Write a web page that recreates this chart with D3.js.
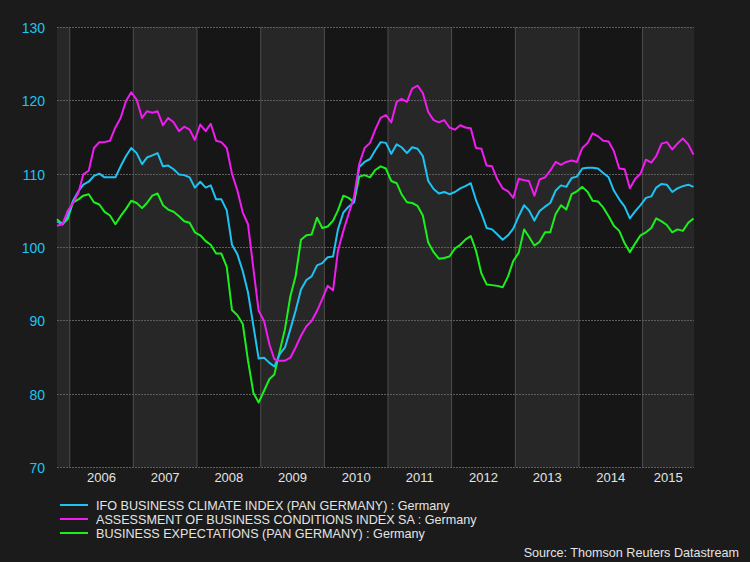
<!DOCTYPE html>
<html>
<head>
<meta charset="utf-8">
<script src="https://cdn.jsdelivr.net/npm/d3@7"></script>
<style>
  html, body { margin: 0; padding: 0; background: #1b1b1b; }
  svg { display: block; font-family: "Liberation Sans", Arial, sans-serif; }
</style>
</head>
<body>
<div id="chart"></div>
<script>
// Séries mensuelles, oct. 2005 -> oct. 2015
const startMonth = new Date(2005, 9, 20);

const ifoClimate = [
    103.5, 103.1, 104.2, 106.3, 107.6, 108.5, 108.9, 109.7, 110.0, 109.5, 109.5, 109.5,
    111.0, 112.4, 113.5, 112.8, 111.3, 112.2, 112.5, 112.8, 111.0, 111.1, 110.6, 109.9,
    109.8, 109.5, 108.1, 108.9, 108.1, 108.4, 106.5, 106.5, 105.0, 100.3, 99.0, 96.7,
    93.8, 89.2, 84.8, 84.9, 84.2, 83.7, 85.4, 86.3, 88.8, 91.3, 94.2, 95.5,
    96.0, 97.5, 97.8, 98.6, 98.7, 102.4, 104.7, 105.5, 106.1, 110.9, 111.6, 112.0,
    113.2, 114.3, 114.2, 112.7, 114.0, 113.6, 112.8, 113.6, 113.4, 112.4, 109.0, 107.9,
    107.3, 107.5, 107.2, 107.5, 108.0, 108.3, 108.7, 106.4, 104.6, 102.6, 102.4, 101.7,
    101.0, 101.6, 102.5, 104.2, 105.7, 105.0, 103.6, 104.9, 105.5, 106.0, 107.7, 108.4,
    108.2, 109.4, 109.6, 110.7, 110.8, 110.8, 110.7, 110.1, 109.5, 107.7, 106.5, 105.5,
    103.9, 104.9, 105.7, 106.7, 106.9, 108.1, 108.6, 108.5, 107.5, 108.0, 108.3, 108.5,
    108.2
];

const assessment = [
    102.9, 103.1, 104.9, 106.0, 107.4, 109.9, 110.4, 113.5, 114.3, 114.3, 114.5, 116.3,
    117.6, 119.9, 121.1, 120.1, 117.6, 118.5, 118.3, 118.5, 116.6, 117.6, 117.0, 115.8,
    116.4, 116.0, 114.6, 116.7, 115.8, 116.8, 114.5, 114.3, 113.5, 110.0, 107.7, 104.7,
    103.1, 97.0, 91.3, 89.9, 86.7, 84.7, 84.5, 84.5, 84.9, 86.3, 87.9, 89.2,
    89.9, 91.3, 92.9, 94.7, 94.1, 99.5, 102.2, 104.5, 106.8, 111.3, 113.5, 114.2,
    116.0, 117.6, 118.0, 117.0, 119.8, 120.2, 119.8, 121.6, 122.0, 121.0, 118.4, 117.3,
    117.0, 117.3, 116.3, 116.0, 116.6, 116.3, 116.2, 113.5, 113.4, 111.1, 111.0, 109.2,
    108.0, 107.6, 106.7, 109.3, 109.1, 109.0, 107.0, 109.2, 109.5, 110.4, 111.6, 111.2,
    111.6, 111.8, 111.6, 113.5, 114.2, 115.5, 115.1, 114.5, 114.4, 113.1, 110.7, 110.6,
    108.0, 109.3, 110.0, 111.9, 111.5, 112.4, 114.1, 114.3, 113.3, 114.1, 114.8, 114.0,
    112.6
];

const expectations = [
    103.8, 103.1, 103.8, 106.1, 106.5, 107.0, 107.2, 106.1, 105.8, 104.8, 104.3, 103.1,
    104.2, 105.2, 106.3, 106.0, 105.3, 106.0, 107.0, 107.3, 105.7, 105.1, 104.8, 104.2,
    103.5, 103.3, 102.0, 101.6, 100.8, 100.3, 99.1, 99.1, 97.3, 91.4, 90.7, 89.5,
    84.5, 80.1, 78.8, 80.4, 82.0, 82.6, 85.8, 88.8, 93.3, 96.0, 101.0, 101.6,
    101.7, 104.0, 102.6, 102.8, 103.6, 105.0, 107.0, 106.7, 106.1, 109.6, 109.8, 109.5,
    110.5, 111.0, 110.7, 109.0, 108.7, 107.2, 106.1, 106.0, 105.6, 104.3, 100.6, 99.3,
    98.4, 98.5, 98.7, 99.8, 100.3, 101.0, 101.5, 99.5, 96.4, 94.9, 94.8, 94.7,
    94.5, 96.0, 98.1, 99.2, 102.4, 101.4, 100.2, 100.7, 102.0, 102.0, 104.5, 105.7,
    105.1, 107.2, 107.6, 108.2, 107.5, 106.3, 106.2, 105.4, 104.2, 102.9, 102.2, 100.5,
    99.3, 100.5, 101.6, 102.0, 102.6, 103.9, 103.5, 103.0, 102.0, 102.4, 102.2, 103.3,
    103.9
];

const seriesNames = [
    "IFO BUSINESS CLIMATE INDEX (PAN GERMANY) : Germany",
    "ASSESSMENT OF BUSINESS CONDITIONS INDEX SA : Germany",
    "BUSINESS EXPECTATIONS (PAN GERMANY) : Germany"
];
const seriesColors = ["#1ec3f2", "#f01cf0", "#1cf01c"];

const yTicks = [70, 80, 90, 100, 110, 120, 130];
const yearLabels = [2005, 2006, 2007, 2008, 2009, 2010, 2011, 2012, 2013, 2014, 2015];

function drawChart() {
    const width = 750;
    const height = 562;
    const plot = { left: 57, right: 694, top: 27, bottom: 467 };

    const svg = d3.select('#chart')
        .append('svg')
        .attr('width', width)
        .attr('height', height);

    svg.append('rect')
        .attr('width', width)
        .attr('height', height)
        .attr('fill', '#1b1b1b');

    const xScale = d3.scaleTime()
        .domain([startMonth, d3.timeMonth.offset(startMonth, 120)])
        .range([plot.left, 693.5]);

    const yScale = d3.scaleLinear()
        .domain([70, 130])
        .range([plot.bottom, plot.top]);

    // bandes annuelles
    yearLabels.forEach(year => {
        const x0 = Math.max(xScale(new Date(year, 0, 1)), plot.left);
        const x1 = Math.min(xScale(new Date(year + 1, 0, 1)), plot.right);
        svg.append('rect')
            .attr('x', x0)
            .attr('y', plot.top)
            .attr('width', x1 - x0)
            .attr('height', plot.bottom - plot.top)
            .attr('fill', year % 2 === 1 ? '#272727' : '#161616');

        if (year > 2005) {
            svg.append('text')
                .attr('x', (x0 + x1) / 2)
                .attr('y', 482)
                .attr('text-anchor', 'middle')
                .attr('font-size', '13px')
                .attr('fill', '#e4e4e4')
                .text(year);
            svg.append('line')
                .attr('x1', x0).attr('x2', x0)
                .attr('y1', plot.top).attr('y2', plot.bottom)
                .attr('stroke', '#4e4e4e')
                .attr('stroke-width', 1);
        }
    });

    // grille horizontale + étiquettes Y
    yTicks.forEach(t => {
        const y = Math.round(yScale(t)) + 0.5;
        svg.append('line')
            .attr('x1', plot.left).attr('x2', plot.right)
            .attr('y1', y).attr('y2', y)
            .attr('stroke', '#5e5e5e')
            .attr('stroke-width', 1)
            .attr('stroke-dasharray', '2,1');
        svg.append('text')
            .attr('x', 45)
            .attr('y', y + 5)
            .attr('text-anchor', 'end')
            .attr('font-size', '14px')
            .attr('fill', '#1ec3f2')
            .text(t);
    });

    // courbes
    const allSeries = [ifoClimate, assessment, expectations];
    const line = d3.line()
        .x((d, i) => xScale(d3.timeMonth.offset(startMonth, i)))
        .y(d => yScale(d));

    [expectations, ifoClimate, assessment].forEach(values => {
        const k = allSeries.indexOf(values);
        svg.append('path')
            .datum(values)
            .attr('d', line)
            .attr('fill', 'none')
            .attr('stroke', seriesColors[k])
            .attr('stroke-width', 2)
            .attr('stroke-linejoin', 'round');
    });

    // légende
    seriesNames.forEach((name, i) => {
        const y = 505 + i * 14;
        svg.append('line')
            .attr('x1', 60).attr('x2', 88)
            .attr('y1', y).attr('y2', y)
            .attr('stroke', seriesColors[i])
            .attr('stroke-width', 2);
        svg.append('text')
            .attr('x', 96)
            .attr('y', y + 4.5)
            .attr('font-size', '12.6px')
            .attr('fill', '#e4e4e4')
            .text(name);
    });

    svg.append('text')
        .attr('x', 739)
        .attr('y', 557)
        .attr('text-anchor', 'end')
        .attr('font-size', '12.6px')
        .attr('fill', '#e4e4e4')
        .text('Source: Thomson Reuters Datastream');
}

document.addEventListener('DOMContentLoaded', drawChart);
</script>
</body>
</html>
